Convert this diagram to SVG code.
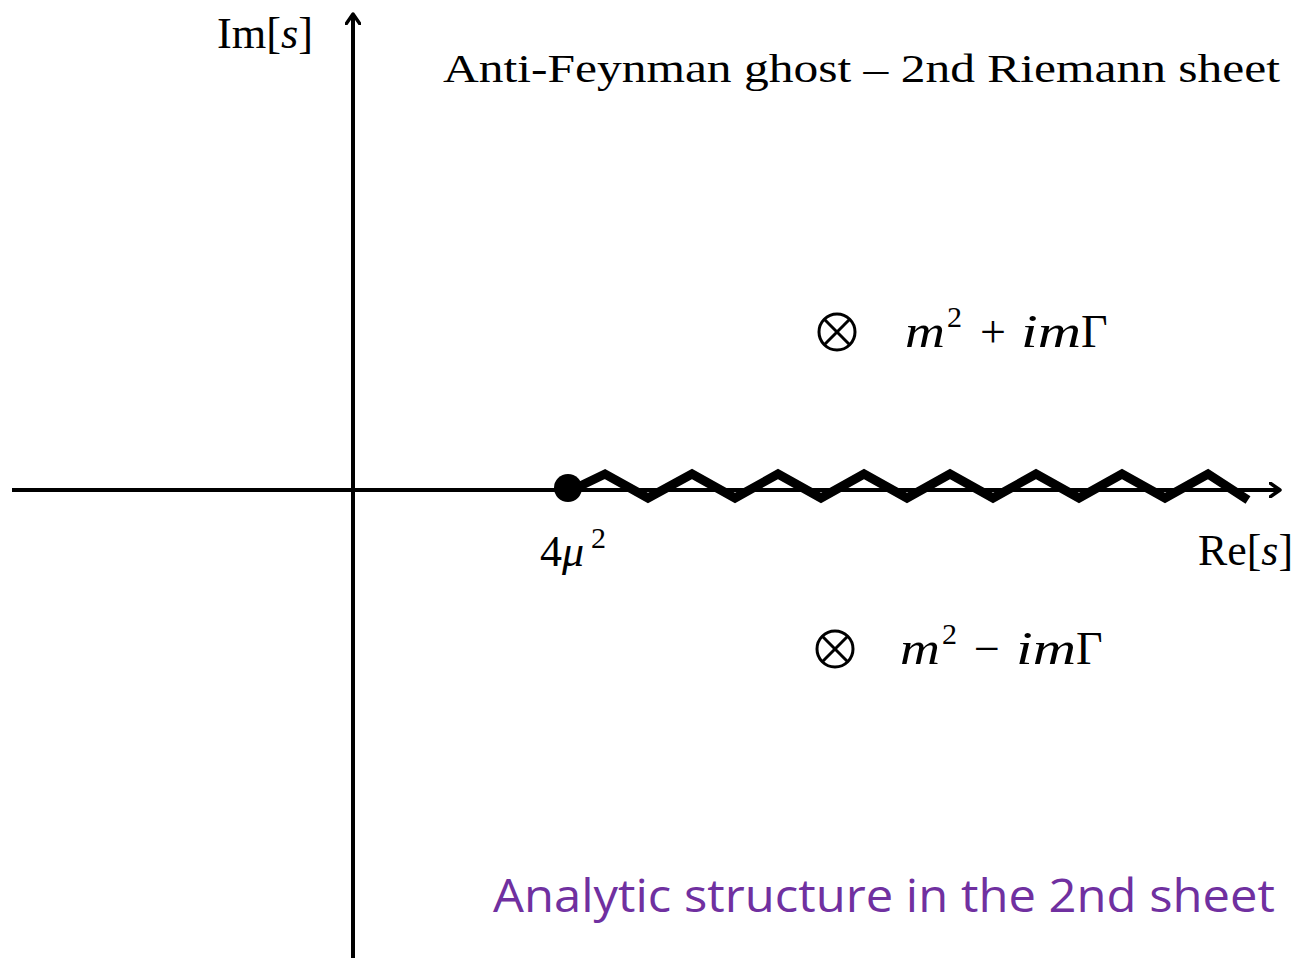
<svg xmlns="http://www.w3.org/2000/svg" width="1299" height="959" viewBox="0 0 1299 959">
<style>
.ax{stroke:#000;stroke-width:4;fill:none}
.m{font-family:"Liberation Serif","DejaVu Serif",serif;fill:#000}
.it{font-style:italic}
.ot{stroke:#000;stroke-width:3;fill:none}
</style>
<defs>
<marker id="arr" markerWidth="14" markerHeight="16" refX="11" refY="8" orient="auto" markerUnits="userSpaceOnUse">
<path d="M1,1 L11,8 L1,15" fill="none" stroke="#000" stroke-width="3.5" stroke-linecap="round" stroke-linejoin="round"/>
</marker>
</defs>
<rect width="1299" height="959" fill="#fff"/>
<g id="connectors">
<line class="ax" x1="12" y1="490" x2="1280" y2="490" marker-end="url(#arr)"/>
<line class="ax" x1="353" y1="958" x2="353" y2="14" marker-end="url(#arr)"/>
<polyline points="576,488 605,474 648,498 692,474 735,498 778,474 821,498 864,474 907,498 950,474 993,498 1036,474 1079,498 1122,474 1165,498 1208,474 1248,500" fill="none" stroke="#000" stroke-width="9" stroke-linejoin="miter"/>
</g>
<g id="branch-point">
<circle cx="568" cy="488" r="14" fill="#000"/>
<text class="m" x="540" y="566" font-size="44">4</text>
<text class="m it" x="562" y="566" font-size="44">μ</text>
<text class="m" x="591" y="548" font-size="30">2</text>
</g>
<g id="pole-upper">
<circle class="ot" cx="837" cy="332" r="18"/>
<line class="ot" x1="824.3" y1="319.3" x2="849.7" y2="344.7"/>
<line class="ot" x1="849.7" y1="319.3" x2="824.3" y2="344.7"/>
<text class="m it" x="905" y="347" font-size="46" textLength="40" lengthAdjust="spacingAndGlyphs">m</text>
<text class="m" x="947" y="327" font-size="30">2</text>
<text class="m" x="980" y="347" font-size="46">+</text>
<text class="m it" x="1021" y="347" font-size="46" textLength="60" lengthAdjust="spacingAndGlyphs">im</text>
<text class="m" x="1081" y="347" font-size="46">Γ</text>
</g>
<g id="pole-lower">
<circle class="ot" cx="835" cy="649" r="18"/>
<line class="ot" x1="822.3" y1="636.3" x2="847.7" y2="661.7"/>
<line class="ot" x1="847.7" y1="636.3" x2="822.3" y2="661.7"/>
<text class="m it" x="900" y="664" font-size="46" textLength="40" lengthAdjust="spacingAndGlyphs">m</text>
<text class="m" x="942" y="644" font-size="30">2</text>
<text class="m" x="974" y="664" font-size="46">−</text>
<text class="m it" x="1016" y="664" font-size="46" textLength="60" lengthAdjust="spacingAndGlyphs">im</text>
<text class="m" x="1076" y="664" font-size="46">Γ</text>
</g>
<g id="labels">
<text class="m" x="217" y="48" font-size="45" textLength="96" lengthAdjust="spacingAndGlyphs">Im[<tspan class="it">s</tspan>]</text>
<text class="m" x="1198" y="565" font-size="45" textLength="95" lengthAdjust="spacingAndGlyphs">Re[<tspan class="it">s</tspan>]</text>
<text class="m" x="443" y="82" font-size="41" textLength="837" lengthAdjust="spacingAndGlyphs">Anti-Feynman ghost – 2nd Riemann sheet</text>
<text x="493" y="912" font-family="'Open Sans','Liberation Sans',sans-serif" font-size="46" fill="#7030A0" textLength="782" lengthAdjust="spacingAndGlyphs">Analytic structure in the 2nd sheet</text>
</g>
</svg>
